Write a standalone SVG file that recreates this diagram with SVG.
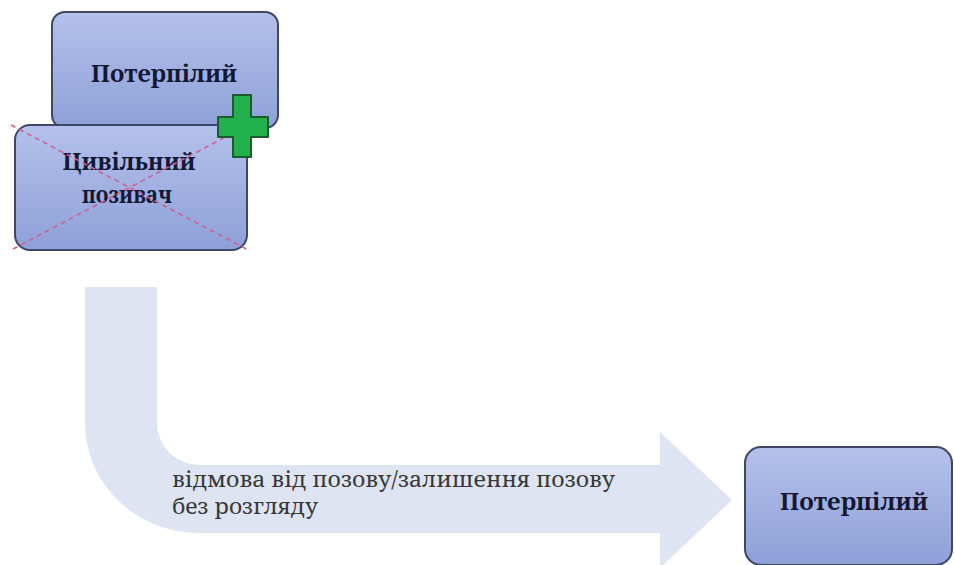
<svg xmlns="http://www.w3.org/2000/svg" width="954" height="565" viewBox="0 0 954 565">
  <defs>
    <linearGradient id="boxGrad" x1="0" y1="0" x2="0" y2="1">
      <stop offset="0" stop-color="#b4c1eb"/>
      <stop offset="1" stop-color="#8ea0d8"/>
    </linearGradient>
    <style>
      .box { fill: url(#boxGrad); stroke: #3e4763; stroke-width: 2; }
      .lbl { font-family: "Noto Serif", "DejaVu Serif", serif; font-weight: bold; font-size: 24px; fill: #141834; text-anchor: middle; }
      .cap { font-family: "Noto Serif", "DejaVu Serif", serif; font-size: 21px; fill: #383838; }
      .cross-line { stroke: #d2608e; stroke-width: 1.6; stroke-dasharray: 5 4; fill: none; }
    </style>
  </defs>
  <rect width="954" height="565" fill="#ffffff"/>

  <g id="connectors">
    <path id="bent-arrow" d="M 85 287 L 157 287 L 157 423 A 42 42 0 0 0 199 465 L 660 465 L 660 432 L 732 500 L 660 568 L 660 533 L 199 533 A 114 110 0 0 1 85 423 Z" fill="#dee4f1"/>
    <text class="cap" x="172" y="487" textLength="443" lengthAdjust="spacingAndGlyphs">відмова від позову/залишення позову</text>
    <text class="cap" x="172" y="514" textLength="146" lengthAdjust="spacingAndGlyphs">без розгляду</text>
  </g>

  <g id="node-victim-top">
    <rect class="box" x="52" y="12" width="226" height="116" rx="13"/>
    <text class="lbl" x="164" y="82" textLength="146" lengthAdjust="spacingAndGlyphs">Потерпілий</text>
  </g>

  <g id="node-civil-plaintiff">
    <rect class="box" x="15" y="125" width="232" height="125" rx="15"/>
    <text class="lbl" x="129" y="170" textLength="133" lengthAdjust="spacingAndGlyphs">Цивільний</text>
    <text class="lbl" x="127" y="203" textLength="90" lengthAdjust="spacingAndGlyphs">позивач</text>
    <line class="cross-line" x1="11" y1="125" x2="250" y2="251"/>
    <line class="cross-line" x1="13" y1="249" x2="250" y2="124"/>
  </g>

  <g id="plus-sign">
    <path d="M 233 95 L 251 95 L 251 117 L 268 117 L 268 137 L 251 137 L 251 157 L 233 157 L 233 137 L 218 137 L 218 117 L 233 117 Z" fill="#23b14d" stroke="#1b5c2c" stroke-width="2" stroke-linejoin="round"/>
  </g>

  <g id="node-victim-result">
    <rect class="box" x="745" y="447" width="207" height="118" rx="16"/>
    <text class="lbl" x="854" y="510" textLength="148" lengthAdjust="spacingAndGlyphs">Потерпілий</text>
  </g>
</svg>
